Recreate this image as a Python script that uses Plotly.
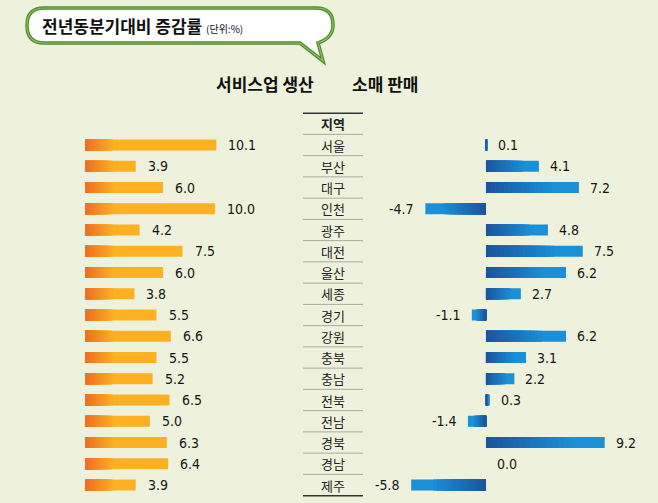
import plotly.graph_objects as go

regions = ["서울", "부산", "대구", "인천", "광주", "대전", "울산", "세종", "경기",
           "강원", "충북", "충남", "전북", "전남", "경북", "경남", "제주"]
service_prod = [10.1, 3.9, 6.0, 10.0, 4.2, 7.5, 6.0, 3.8, 5.5, 6.6, 5.5, 5.2, 6.5, 5.0, 6.3, 6.4, 3.9]
retail_sales = [0.1, 4.1, 7.2, -4.7, 4.8, 7.5, 6.2, 2.7, -1.1, 6.2, 3.1, 2.2, 0.3, -1.4, 9.2, 0.0, -5.8]

title_main = "전년동분기대비 증감률"
title_unit = "(단위:%)"
left_title = "서비스업 생산"
right_title = "소매 판매"
header = "지역"

W, H = 658, 503
BG = "#eef2dc"
NUMFONT = "DejaVu Sans Condensed, Liberation Sans Narrow, Roboto, sans-serif"
KRFONT = "Noto Sans CJK KR"

def px(x, y):
    return f"{x / W:.5f},{1 - y / H:.5f}"

def mix(c1, c2, t):
    a = [int(c1[i:i + 2], 16) for i in (1, 3, 5)]
    b = [int(c2[i:i + 2], 16) for i in (1, 3, 5)]
    return "#" + "".join(f"{round(a[k] + (b[k] - a[k]) * t):02x}" for k in range(3))

n = len(regions)
ys = list(range(n))
BW = 0.52

fig = go.Figure()

# Left bars (orange gradient, dark at the start)
steps = 16
grad_len = 2.3
fig.add_trace(go.Bar(x=service_prod, y=ys, orientation="h", width=BW,
                     marker=dict(color="#fdb121", line=dict(width=0)),
                     xaxis="x", yaxis="y", hoverinfo="skip", showlegend=False))
for k in range(1, steps):
    frac = 1 - k / steps
    col = mix("#fdb121", "#ee6f22", k / (steps - 1))
    fig.add_trace(go.Bar(x=[min(v, grad_len * frac) for v in service_prod], y=ys,
                         orientation="h", width=BW,
                         marker=dict(color=col, line=dict(width=0)),
                         xaxis="x", yaxis="y", hoverinfo="skip", showlegend=False))

# Right bars (blue gradient, dark near zero)
fig.add_trace(go.Bar(x=retail_sales, y=ys, orientation="h", width=BW,
                     marker=dict(color="#1990d8", line=dict(width=0)),
                     xaxis="x2", yaxis="y", hoverinfo="skip", showlegend=False))
for k in range(1, steps):
    frac = 0.75 * (1 - k / steps)
    col = mix("#1990d8", "#1b55a0", k / (steps - 1))
    fig.add_trace(go.Bar(x=[v * frac for v in retail_sales], y=ys,
                         orientation="h", width=BW,
                         marker=dict(color=col, line=dict(width=0)),
                         xaxis="x2", yaxis="y", hoverinfo="skip", showlegend=False))

annotations = []
for i, v in enumerate(service_prod):
    annotations.append(dict(x=v, y=i, xref="x", yref="y", text=f"{v:.1f}",
                            showarrow=False, xanchor="left", xshift=10,
                            font=dict(family=NUMFONT, size=14, color="#151515")))
for i, v in enumerate(retail_sales):
    if v < 0:
        annotations.append(dict(x=v, y=i, xref="x2", yref="y", text=f"{v:.1f}",
                                showarrow=False, xanchor="right", xshift=-9,
                                font=dict(family=NUMFONT, size=14, color="#151515")))
    else:
        annotations.append(dict(x=v, y=i, xref="x2", yref="y", text=f"{v:.1f}",
                                showarrow=False, xanchor="left", xshift=9,
                                font=dict(family=NUMFONT, size=14, color="#151515")))

CX = 333 / W
annotations.append(dict(x=CX, y=-1, xref="paper", yref="y", text=f"<b>{header}</b>",
                        showarrow=False, yanchor="middle",
                        font=dict(family=KRFONT, size=13, color="#222")))
for i, r in enumerate(regions):
    annotations.append(dict(x=CX, y=i, xref="paper", yref="y", text=r, showarrow=False,
                            yanchor="middle",
                            font=dict(family=KRFONT, size=13, color="#222")))

annotations.append(dict(x=40 / W, y=1 - 26 / H, xref="paper", yref="paper",
                        text=f"<b>{title_main}</b> <span style='font-size:10px;font-weight:normal'>{title_unit}</span>",
                        showarrow=False, xanchor="left", yanchor="middle",
                        font=dict(family=KRFONT, size=17, color="#111")))
annotations.append(dict(x=264.5 / W, y=1 - 83 / H, xref="paper", yref="paper",
                        text=f"<b>{left_title}</b>", showarrow=False,
                        xanchor="center", yanchor="middle",
                        font=dict(family=KRFONT, size=17, color="#111")))
annotations.append(dict(x=385 / W, y=1 - 83 / H, xref="paper", yref="paper",
                        text=f"<b>{right_title}</b>", showarrow=False,
                        xanchor="center", yanchor="middle",
                        font=dict(family=KRFONT, size=17, color="#111")))

shapes = []
x0l, x1l = 303 / W, 363 / W
shapes.append(dict(type="line", xref="paper", yref="y", x0=x0l, x1=x1l, y0=-1.5, y1=-1.5,
                   line=dict(color="#333", width=1.5)))
shapes.append(dict(type="line", xref="paper", yref="y", x0=x0l, x1=x1l, y0=n - 0.5, y1=n - 0.5,
                   line=dict(color="#333", width=1.5)))
for i in range(n):
    shapes.append(dict(type="line", xref="paper", yref="y", x0=x0l, x1=x1l,
                       y0=i - 0.5, y1=i - 0.5, line=dict(color="#a9ab9c", width=1)))

bubble = ("M " + px(44, 8) + " L " + px(316, 8) + " Q " + px(333, 8) + " " + px(333, 25) +
          " Q " + px(333, 38) + " " + px(318, 43) + " L " + px(323, 61) + " L " + px(300, 43) +
          " L " + px(44, 43) + " Q " + px(27, 43) + " " + px(27, 25.5) +
          " Q " + px(27, 8) + " " + px(44, 8) + " Z")
shapes.append(dict(type="path", xref="paper", yref="paper", path=bubble,
                   fillcolor="white", line=dict(color="#4f8a2c", width=3.5)))
shapes.append(dict(type="path", xref="paper", yref="paper", path=bubble,
                   fillcolor="rgba(0,0,0,0)", line=dict(color="#8fc064", width=1.2)))

y_top = -145 / 21.25
y_bot = (H - 145) / 21.25

fig.update_layout(
    width=W, height=H,
    margin=dict(l=0, r=0, t=0, b=0),
    paper_bgcolor=BG, plot_bgcolor=BG,
    barmode="overlay",
    showlegend=False,
    xaxis=dict(domain=[85 / W, 280 / W], range=[0, 15], visible=False, fixedrange=True),
    xaxis2=dict(domain=[382.8 / W, 640.8 / W], range=[-8, 12], visible=False,
                anchor="y", fixedrange=True),
    yaxis=dict(domain=[0, 1], range=[y_bot, y_top], visible=False, fixedrange=True),
    annotations=annotations,
    shapes=shapes,
)

fig.write_html("out.html", config={"displayModeBar": False},
               post_script="document.body.style.margin='0';document.body.style.padding='0';"
                           "document.body.style.background='" + BG + "';")
